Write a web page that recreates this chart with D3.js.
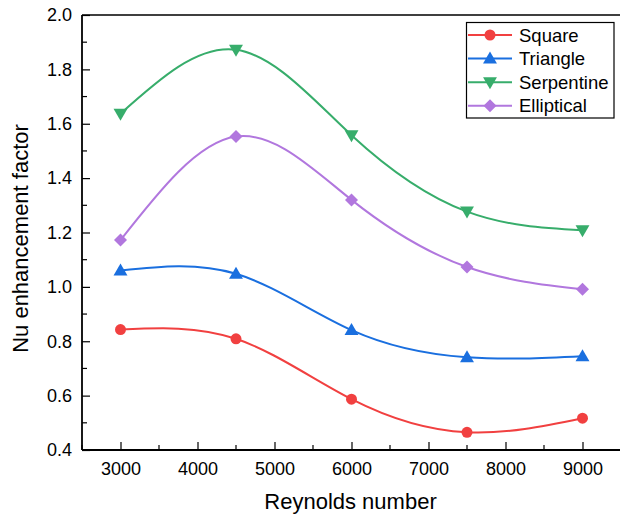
<!DOCTYPE html>
<html><head><meta charset="utf-8">
<script src="https://cdn.jsdelivr.net/npm/d3@7"></script>
<style>body{margin:0;background:#fff}svg{display:block;font-family:"Liberation Sans",Arial,sans-serif}</style>
</head><body><svg id="c" width="620" height="517"></svg>
<script>
const reynolds = [3000, 4500, 6000, 7500, 9000];
const seriesNames = ["Square", "Triangle", "Serpentine", "Elliptical"];
const square = [0.843, 0.809, 0.587, 0.465, 0.517];
const triangle = [1.060, 1.048, 0.841, 0.741, 0.745];
const serpentine = [1.637, 1.872, 1.558, 1.277, 1.208];
const elliptical = [1.172, 1.553, 1.320, 1.073, 0.991];
const xTicks = [3000, 4000, 5000, 6000, 7000, 8000, 9000];
const yTicks = [0.4, 0.6, 0.8, 1.0, 1.2, 1.4, 1.6, 1.8, 2.0];
const colors = ["#F14040", "#1A6FDF", "#37AD6B", "#B177DE"];
const shapes = ["circle", "up", "down", "diamond"];
const values = [square, triangle, serpentine, elliptical];

const svg = d3.select("#c");
const L = 82, R = 621, T = 15, B = 450;
const x = d3.scaleLinear().domain([2500, 9500]).range([L, R]);
const y = d3.scaleLinear().domain([0.4, 2.0]).range([B, T]);

function symPath(s) {
  if (s === "circle") return d3.symbol(d3.symbolCircle, 95)();
  if (s === "up" || s === "down") return d3.symbol(d3.symbolTriangle, 84)();
  return "M0,-6.5L6.5,0L0,6.5L-6.5,0Z";
}
function symTransform(s, px, py) {
  if (s === "up") return `translate(${px},${py + 1})`;
  if (s === "down") return `translate(${px},${py - 1}) rotate(180)`;
  return `translate(${px},${py})`;
}

// frame (top & right)
svg.append("path").attr("d", `M${L},${T}H${R}V${B}`).attr("fill", "none").attr("stroke", "#000").attr("stroke-width", 1.6);

// x axis
const gx = svg.append("g").attr("transform", `translate(0,${B})`);
gx.call(d3.axisBottom(x).tickValues(xTicks).tickSize(-8).tickPadding(12).tickFormat(d3.format("d")));
d3.range(2500, 9501, 1000).forEach(v => {
  gx.append("line").attr("x1", x(v)).attr("x2", x(v)).attr("y1", 0).attr("y2", -5).attr("stroke", "#000").attr("stroke-width", 1.2);
});
// y axis
const gy = svg.append("g").attr("transform", `translate(${L},0)`);
gy.call(d3.axisLeft(y).tickValues(yTicks).tickSize(-8).tickPadding(10).tickFormat(d3.format(".1f")));
d3.range(0.5, 2.0, 0.2).forEach(v => {
  gy.append("line").attr("x1", 0).attr("x2", 5).attr("y1", y(v)).attr("y2", y(v)).attr("stroke", "#000").attr("stroke-width", 1.2);
});
[gx, gy].forEach(g => {
  g.select(".domain").attr("stroke-width", 1.8);
  g.selectAll(".tick line").attr("stroke-width", 1.2);
  g.selectAll(".tick text").attr("font-size", 18).attr("fill", "#000").attr("font-family", "Liberation Sans, Arial, sans-serif");
});
gx.select(".domain").attr("d", `M${L},0H${R}`);
gy.select(".domain").attr("d", `M0,${B}V${T}`);

// axis labels
svg.append("text").attr("x", (L + R) / 2 - 1).attr("y", 509).attr("text-anchor", "middle")
  .attr("font-size", 22).text("Reynolds number");
svg.append("text").attr("transform", `translate(28,${(T + B) / 2 + 6}) rotate(-90)`).attr("text-anchor", "middle")
  .attr("font-size", 22).text("Nu enhancement factor");

// series
const line = d3.line().x((d, i) => x(reynolds[i])).y(d => y(d)).curve(d3.curveNatural);
values.forEach((vals, k) => {
  svg.append("path").attr("d", line(vals)).attr("fill", "none").attr("stroke", colors[k]).attr("stroke-width", 2);
  svg.append("g").selectAll("path").data(vals).join("path")
    .attr("d", symPath(shapes[k]))
    .attr("transform", (d, i) => symTransform(shapes[k], x(reynolds[i]), y(d)))
    .attr("fill", colors[k]);
});

// legend
const lg = svg.append("g");
lg.append("rect").attr("x", 466.5).attr("y", 22.5).attr("width", 147.5).attr("height", 95.5)
  .attr("fill", "#fff").attr("stroke", "#000").attr("stroke-width", 1.2);
seriesNames.forEach((n, k) => {
  const cy = 35 + k * 23.6;
  lg.append("line").attr("x1", 468).attr("x2", 512).attr("y1", cy).attr("y2", cy).attr("stroke", colors[k]).attr("stroke-width", 2);
  lg.append("path").attr("d", symPath(shapes[k])).attr("transform", symTransform(shapes[k], 490, cy)).attr("fill", colors[k]);
  lg.append("text").attr("x", 519).attr("y", cy + 6.5).attr("font-size", 18.5).text(n);
});
</script></body></html>
